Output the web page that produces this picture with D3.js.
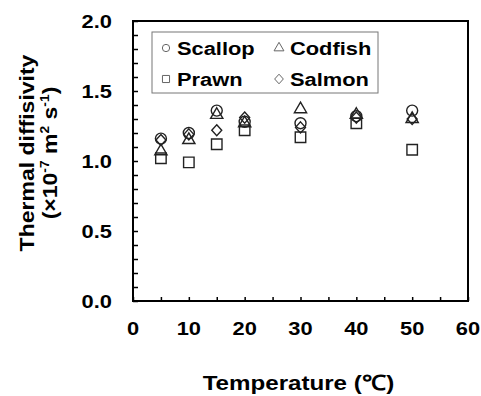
<!DOCTYPE html>
<html>
<head>
<meta charset="utf-8">
<script src="https://cdn.jsdelivr.net/npm/d3@7"></script>
<style>
  body { margin: 0; background: #fff; }
  text { font-family: Arial, "Liberation Sans", sans-serif; font-weight: bold; fill: #000; }
</style>
</head>
<body>
<div id="chart"></div>
<script>
// data
const temps = [5, 10, 15, 20, 30, 40, 50];
const scallop = [1.16, 1.20, 1.36, 1.28, 1.27, 1.32, 1.36];
const codfish = [1.07, 1.15, 1.33, 1.27, 1.37, 1.33, 1.30];
const prawn   = [1.02, 0.99, 1.12, 1.22, 1.17, 1.27, 1.08];
const salmon  = [1.15, 1.19, 1.22, 1.31, 1.24, 1.31, 1.30];
const xTicks = [0, 10, 20, 30, 40, 50, 60];
const yTicks = [0, 0.5, 1.0, 1.5, 2.0];

// the original text looks a bit wider than plain Arial
const SX = 1.15;

// diamond a little squarer than d3's
const diamond = {
  draw(ctx, size) {
    let h = Math.sqrt(size / 2) * 1.05, w = Math.sqrt(size / 2) * 0.95;
    ctx.moveTo(0, -h); ctx.lineTo(w, 0); ctx.lineTo(0, h); ctx.lineTo(-w, 0); ctx.closePath();
  }
};

const series = [
  {name: "Scallop", sym: d3.symbolCircle, size: 95, values: scallop},
  {name: "Codfish", sym: d3.symbolTriangle, size: 65, values: codfish},
  {name: "Prawn", sym: d3.symbolSquare, size: 110, values: prawn},
  {name: "Salmon", sym: diamond, size: 55, values: salmon}
];

let svgWidth = 481, svgHeight = 396;
let margin = {top: 21, right: 13, bottom: 95, left: 133},
    width = svgWidth - margin.left - margin.right,
    height = svgHeight - margin.top - margin.bottom;

let svg = d3.select("#chart").append("svg")
    .attr("width", svgWidth)
    .attr("height", svgHeight);

let x = d3.scaleLinear().domain([0, 60]).range([0, width]),
    y = d3.scaleLinear().domain([0, 2]).range([height, 0]),
    g = svg.append("g").attr("transform", "translate(" + margin.left + "," + margin.top + ")");

function place(px, py) { return "translate(" + px + "," + py + ") scale(" + SX + ",1)"; }

// minor ticks (inward)
g.append("g")
    .attr("transform", "translate(0," + height + ")")
    .call(d3.axisTop(x).tickValues(d3.range(0, 61, 5)).tickSize(4).tickFormat(""))
    .call(a => a.select(".domain").remove())
    .selectAll("line").attr("stroke", "#000").attr("stroke-width", 1.5);
g.append("g")
    .call(d3.axisRight(y).tickValues(d3.range(0, 2.01, 0.1)).tickSize(5).tickFormat(""))
    .call(a => a.select(".domain").remove())
    .selectAll("line").attr("stroke", "#000").attr("stroke-width", 1.5);

// tick labels
g.selectAll(".xlab").data(xTicks).enter().append("text")
    .attr("transform", d => place(x(d), height + 34))
    .attr("text-anchor", "middle").attr("font-size", 19)
    .text(d => d);
g.selectAll(".ylab").data(yTicks).enter().append("text")
    .attr("transform", d => place(-21, y(d) + 7))
    .attr("text-anchor", "end").attr("font-size", 19)
    .text(d => d.toFixed(1));

// frame
g.append("rect")
    .attr("width", width).attr("height", height)
    .attr("fill", "none").attr("stroke", "#000").attr("stroke-width", 2);

// points
series.forEach(s => {
  g.selectAll(null).data(s.values).enter().append("path")
      .attr("d", d3.symbol().type(s.sym).size(s.size))
      .attr("transform", (d, i) => "translate(" + x(temps[i]) + "," + y(d) + ")")
      .attr("fill", "none").attr("stroke", "#222").attr("stroke-width", 1.4);
});

// legend
let lg = g.append("g").attr("transform", "translate(19,11)");
lg.append("rect").attr("width", 226).attr("height", 61)
    .attr("fill", "#fff").attr("stroke", "#777").attr("stroke-width", 1);
series.forEach((s, i) => {
  let col = i % 2, row = Math.floor(i / 2);
  let item = lg.append("g").attr("transform", "translate(" + (14 + col * 113) + "," + (16 + row * 31) + ")");
  item.append("path")
      .attr("d", d3.symbol().type(s.sym).size(s.sym === d3.symbolSquare ? 50 : 42))
      .attr("fill", "none").attr("stroke", "#666").attr("stroke-width", 1);
  item.append("text").attr("transform", place(11, 7)).attr("font-size", 19).text(s.name);
});

// axis titles
svg.append("text")
    .attr("transform", place(margin.left + width / 2 - 2, 390))
    .attr("text-anchor", "middle").attr("font-size", 21)
    .text("Temperature (\u2103)");
let yt = svg.append("text")
    .attr("transform", "translate(34,153) rotate(-90) scale(" + SX + ",1)")
    .attr("text-anchor", "middle").attr("font-size", 20);
yt.append("tspan").attr("x", 0).attr("y", 0).text("Thermal diffisivity");
let t2 = yt.append("tspan").attr("x", 0).attr("y", 23);
t2.append("tspan").text("(×10");
t2.append("tspan").attr("font-size", 12).attr("dy", -8).text("-7");
t2.append("tspan").attr("dy", 8).text(" m");
t2.append("tspan").attr("font-size", 12).attr("dy", -8).text("2");
t2.append("tspan").attr("dy", 8).text(" s");
t2.append("tspan").attr("font-size", 12).attr("dy", -8).text("-1");
t2.append("tspan").attr("dy", 8).text(")");
</script>
</body>
</html>
